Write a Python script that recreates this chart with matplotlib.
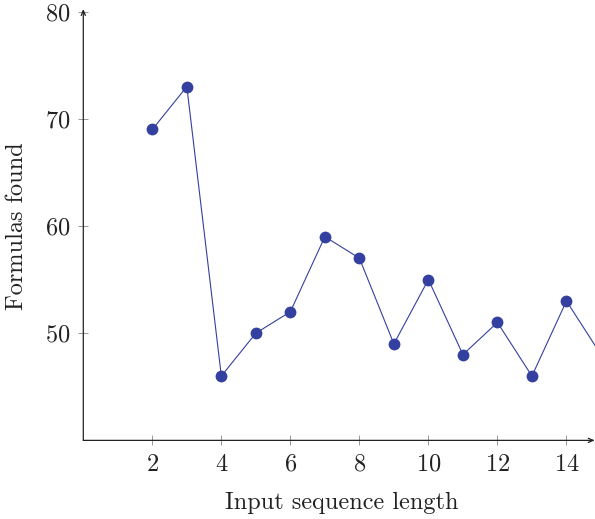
import matplotlib
matplotlib.use("Agg")
import matplotlib.pyplot as plt

# formulas found per input sequence length
lengths = [2, 3, 4, 5, 6, 7, 8, 9, 10, 11, 12, 13, 14, 15]
formulas = [69, 73, 46, 50, 52, 59, 57, 49, 55, 48, 51, 46, 53, 48]
xticks = [2, 4, 6, 8, 10, 12, 14]
yticks = [50, 60, 70, 80]

plt.rcParams['font.family'] = ['cmr10', 'DejaVu Serif']
plt.rcParams['axes.formatter.use_mathtext'] = True

fig = plt.figure(figsize=(5.95, 5.19), dpi=100)
ax = fig.add_axes([0.140, 0.1515, 0.870, 0.8262])

blue = '#3340a0'
ax.plot(lengths, formulas, color=blue, lw=0.8, marker='o', ms=8.5,
        markeredgewidth=0, clip_on=True)

ax.set_xlim(0, 15)
ax.set_ylim(40, 80)
ax.set_xticks(xticks)
ax.set_yticks(yticks)

for side in ['top', 'right', 'left', 'bottom']:
    ax.spines[side].set_visible(False)

# axis lines with arrow heads
arrow = dict(arrowstyle='->,head_length=0.35,head_width=0.15',
             lw=0.9, color='#222222', shrinkA=0, shrinkB=0)
ax.annotate('', xy=(0, 1.006), xytext=(0, 0), xycoords='axes fraction',
            arrowprops=arrow, annotation_clip=False)
ax.annotate('', xy=(0.988, 0), xytext=(0, 0), xycoords='axes fraction',
            arrowprops=arrow, annotation_clip=False)

ax.tick_params(direction='inout', length=7, width=0.6, color='#888888',
               labelsize=17.5, labelcolor='#222222')
ax.tick_params(axis='x', pad=6)
ax.tick_params(axis='y', pad=6)

ax.set_xlabel('Input sequence length', fontsize=17.5, color='#222222', labelpad=12)
ax.set_ylabel('Formulas found', fontsize=17.5, color='#222222', labelpad=12)

fig.savefig('out.png', dpi=100)
